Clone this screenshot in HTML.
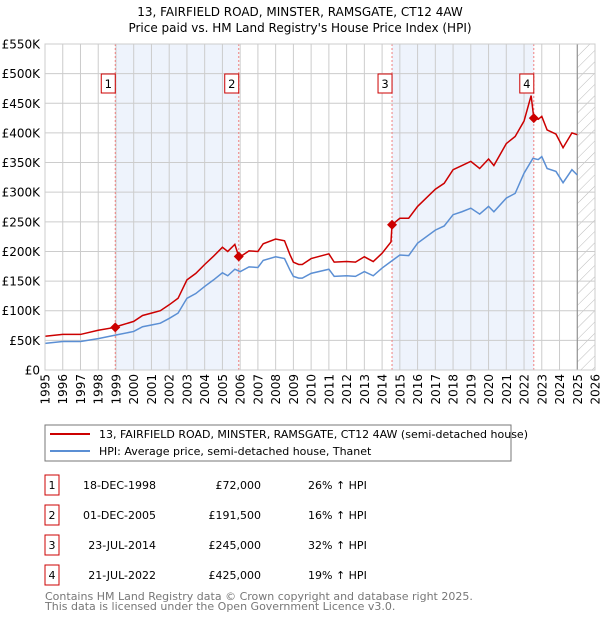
<!DOCTYPE html>
<html><head><meta charset="utf-8"><style>
body{margin:0;background:#fff;font-family:"DejaVu Sans","Liberation Sans",sans-serif;}
svg text{font-family:"DejaVu Sans","Liberation Sans",sans-serif;}
</style></head><body>
<svg id="c" width="600" height="620" xmlns="http://www.w3.org/2000/svg">
<text x="300" y="16" text-anchor="middle" font-size="12">13, FAIRFIELD ROAD, MINSTER, RAMSGATE, CT12 4AW</text>
<text x="300" y="32" text-anchor="middle" font-size="12">Price paid vs. HM Land Registry's House Price Index (HPI)</text>
<g id="plot"></g>
<rect x="45" y="425" width="466" height="36" fill="#fff" stroke="#777"/>
<line x1="50" y1="434" x2="90" y2="434" stroke="#cc0000" stroke-width="2"/>
<text x="99" y="438" font-size="11">13, FAIRFIELD ROAD, MINSTER, RAMSGATE, CT12 4AW (semi-detached house)</text>
<line x1="50" y1="451" x2="90" y2="451" stroke="#5b8fd4" stroke-width="2"/>
<text x="99" y="455" font-size="11">HPI: Average price, semi-detached house, Thanet</text>
<g id="tbl" font-size="11"></g>
<text x="45" y="600" font-size="11" fill="#777">Contains HM Land Registry data © Crown copyright and database right 2025.</text>
<text x="45" y="610" font-size="11" fill="#777">This data is licensed under the Open Government Licence v3.0.</text>
</svg>
<script>
const hpiDates=[1995,1996,1997,1998,1999,2000,2000.5,2001,2001.5,2002,2002.5,2003,2003.5,2004,2004.5,2005,2005.3,2005.7,2006,2006.5,2007,2007.3,2008,2008.5,2008.8,2009,2009.3,2009.5,2010,2011,2011.3,2012,2012.5,2013,2013.5,2014,2014.5,2015,2015.5,2016,2017,2017.5,2018,2018.5,2019,2019.5,2020,2020.3,2021,2021.5,2022,2022.5,2022.8,2023,2023.3,2023.8,2024.2,2024.7,2025];
const hpiValues=[45,48,48,53,59,65,73,76,79,87,96,121,129,141,152,164,159,170,166,174,173,185,191,188,169,158,155,155,163,170,158,159,158,166,159,172,183,194,193,214,236,243,262,267,273,263,276,267,290,298,332,357,355,360,340,335,316,338,329];
const priceDates=[1995,1996,1997,1998,1998.96,1999,2000,2000.5,2001,2001.5,2002,2002.5,2003,2003.5,2004,2004.5,2005,2005.3,2005.7,2005.92,2006,2006.5,2007,2007.3,2008,2008.5,2008.8,2009,2009.3,2009.5,2010,2011,2011.3,2012,2012.5,2013,2013.5,2014,2014.5,2014.56,2015,2015.5,2016,2017,2017.5,2018,2018.5,2019,2019.5,2020,2020.3,2021,2021.5,2022,2022.4,2022.55,2022.8,2023,2023.3,2023.8,2024.2,2024.7,2025];
const priceValues=[57,60,60,67,72,73,82,92,96,100,110,121,152,163,178,192,207,200,212,191.5,191,201,200,213,221,218,195,182,178,178,188,196,182,183,182,191,183,197,216,245,256,256,276,305,315,338,345,352,340,356,345,382,394,420,463,425,423,428,405,398,375,400,397];
const saleDates=[1998.96,2005.92,2014.56,2022.55];
const saleValues=[72,191.5,245,425];
const saleLabels=["1","2","3","4"];
const saleDateText=["18-DEC-1998","01-DEC-2005","23-JUL-2014","21-JUL-2022"];
const salePriceText=["£72,000","£191,500","£245,000","£425,000"];
const saleHpiText=["26% ↑ HPI","16% ↑ HPI","32% ↑ HPI","19% ↑ HPI"];
const yTicks=[0,50,100,150,200,250,300,350,400,450,500,550];
const yTickLabels=["£0","£50K","£100K","£150K","£200K","£250K","£300K","£350K","£400K","£450K","£500K","£550K"];
const xYears=[1995,1996,1997,1998,1999,2000,2001,2002,2003,2004,2005,2006,2007,2008,2009,2010,2011,2012,2013,2014,2015,2016,2017,2018,2019,2020,2021,2022,2023,2024,2025,2026];
const X0=45,X1=595,Y0=370,Y1=44;
const xs=t=>X0+(t-1995)/(2026-1995)*(X1-X0);
const ys=v=>Y0-v/550*(Y0-Y1);
const NS="http://www.w3.org/2000/svg";
const g=document.getElementById('plot');
function mk(tag,at,parent){const e=document.createElementNS(NS,tag);for(const k in at)e.setAttribute(k,at[k]);(parent||g).appendChild(e);return e;}
let e;
e=mk('rect',{x:X0,y:Y1,width:X1-X0,height:Y0-Y1,fill:'#fff'});


for(let i=0;i<2;i++){const a=saleDates[i*2],b=saleDates[i*2+1];
e=mk('rect',{x:xs(a),y:Y1,width:xs(b)-xs(a),height:Y0-Y1,fill:'#eef3fc'});

}
const defs=mk('defs',{});
const pat=mk('pattern',{id:'hatch',width:8,height:8,patternUnits:'userSpaceOnUse',patternTransform:'rotate(45)'},defs);
mk('line',{x1:0,y1:0,x2:0,y2:8,stroke:'#bbb','stroke-width':1},pat);
e=mk('rect',{x:xs(2025),y:Y1,width:X1-xs(2025),height:Y0-Y1,fill:'url(#hatch)'});


yTicks.forEach((v,i)=>{
e=mk('line',{x1:X0,x2:X1,y1:ys(v),y2:ys(v),stroke:'#ccc'});


e=mk('text',{x:40,y:ys(v)+4.5,'text-anchor':'end','font-size':12});e.textContent=yTickLabels[i];

});
xYears.forEach(t=>{
e=mk('line',{x1:xs(t),x2:xs(t),y1:Y1,y2:Y0,stroke:'#ccc'});


e=mk('text',{x:0,y:0,'text-anchor':'end','font-size':12,transform:`translate(${xs(t)+4.5},374) rotate(-90)`});e.textContent=t;

});
e=mk('line',{x1:xs(2025),x2:xs(2025),y1:Y1,y2:Y0,stroke:'#888'});


saleDates.forEach((t,i)=>{
e=mk('line',{x1:xs(t),x2:xs(t),y1:Y1,y2:Y0,stroke:'#f08080','stroke-dasharray':'2,2'});

});
e=mk('polyline',{points:hpiDates.map((t,i)=>xs(t)+','+ys(hpiValues[i])).join(' '),fill:'none',stroke:'#5b8fd4','stroke-width':1.5});


e=mk('polyline',{points:priceDates.map((t,i)=>xs(t)+','+ys(priceValues[i])).join(' '),fill:'none',stroke:'#cc0000','stroke-width':1.5});


saleDates.forEach((t,i)=>{const cx=xs(t),cy=ys(saleValues[i]);
e=mk('polygon',{points:`${cx},${cy-5} ${cx+5},${cy} ${cx},${cy+5} ${cx-5},${cy}`,fill:'#cc0000'});


e=mk('rect',{x:cx-14,y:74,width:14,height:19,fill:'#fff',stroke:'#cc0000'});


e=mk('text',{x:cx-7,y:88,'text-anchor':'middle','font-size':11.5});e.textContent=saleLabels[i];

});
mk('rect',{x:X0,y:Y1,width:X1-X0,height:Y0-Y1,fill:'none',stroke:'#ccc'});
const tb=document.getElementById('tbl');
saleLabels.forEach((l,i)=>{const y=475+i*30;
e=mk('rect',{x:45,y:y,width:14,height:20,fill:'#fff',stroke:'#cc0000'},tb);


e=mk('text',{x:52,y:y+14,'text-anchor':'middle'},tb);e.textContent=l;


e=mk('text',{x:156,y:y+14,'text-anchor':'end'},tb);e.textContent=saleDateText[i];


e=mk('text',{x:261,y:y+14,'text-anchor':'end'},tb);e.textContent=salePriceText[i];


e=mk('text',{x:308,y:y+14},tb);e.textContent=saleHpiText[i];

});
</script>
</body></html>
